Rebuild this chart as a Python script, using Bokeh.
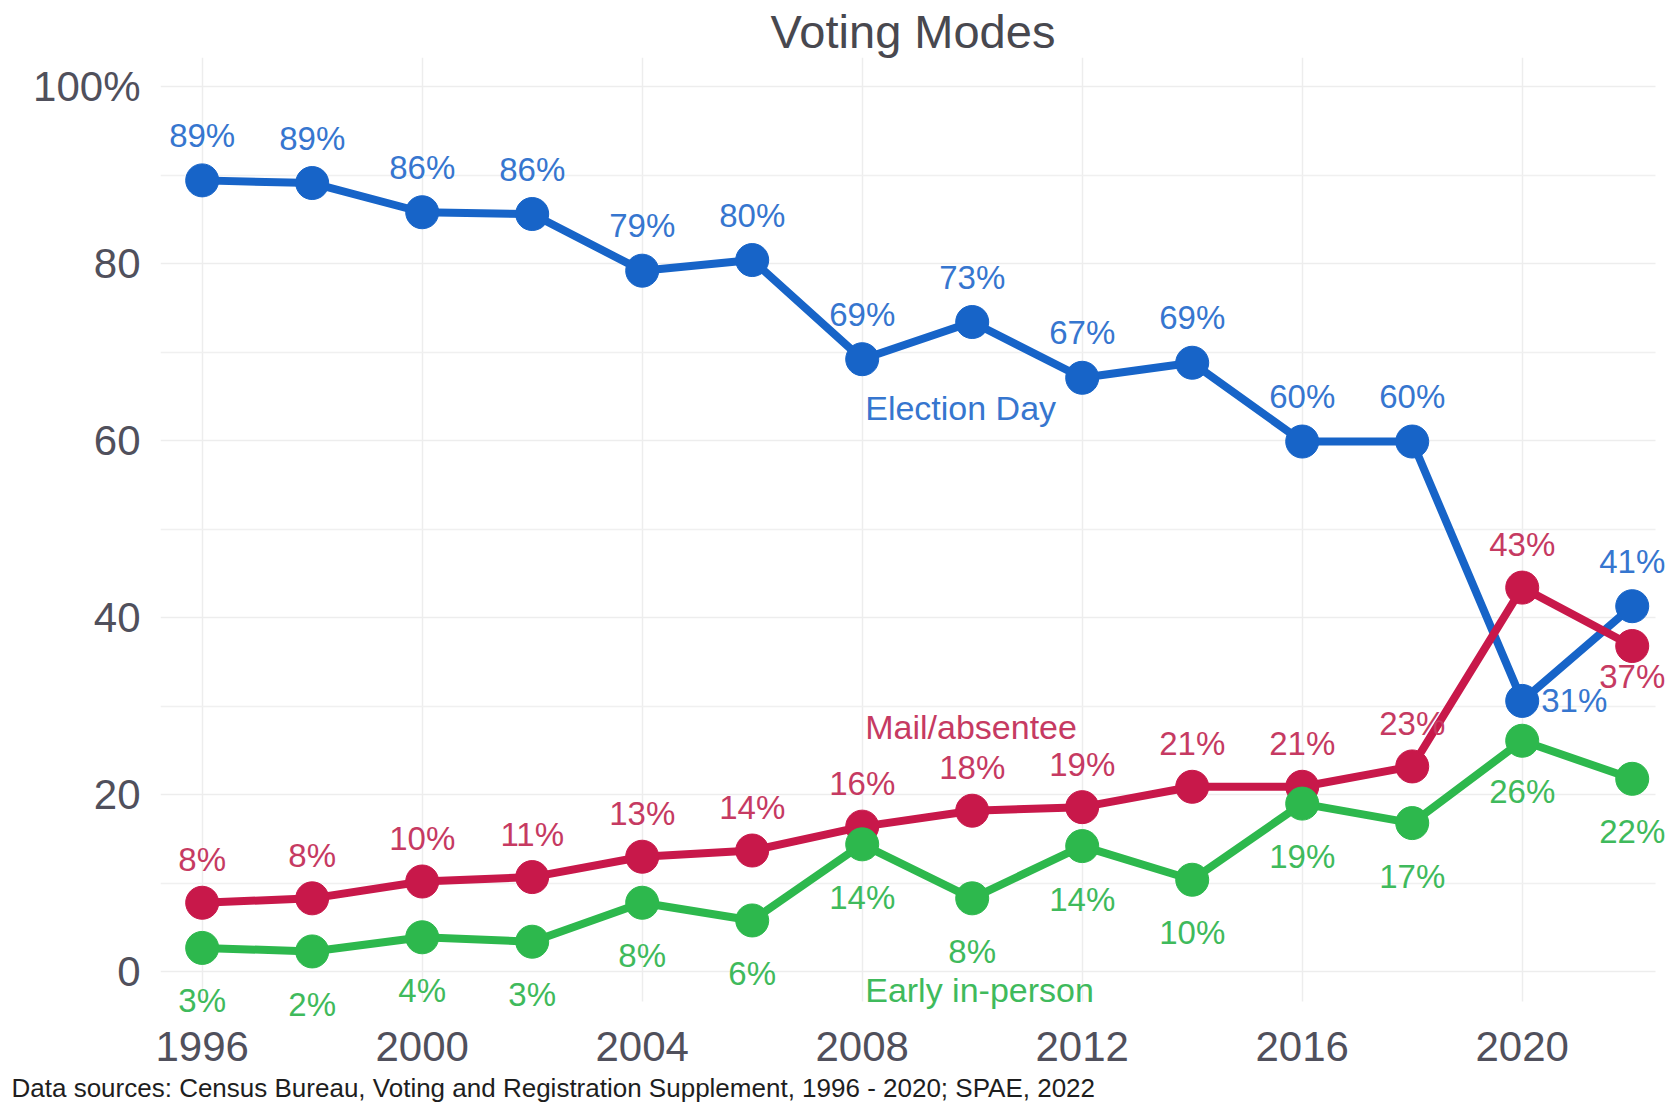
from bokeh.plotting import figure
from bokeh.models import ColumnDataSource, Range1d, FixedTicker, Title
from bokeh.core.properties import value
from bokeh.embed import file_html
from bokeh.resources import INLINE

# ---------------- data ----------------
years = [1996, 1998, 2000, 2002, 2004, 2006, 2008, 2010, 2012, 2014, 2016, 2018, 2020, 2022]
election_day = [89.4, 89.1, 85.8, 85.6, 79.2, 80.4, 69.2, 73.4, 67.1, 68.8, 59.9, 59.9, 30.6, 41.3]
mail_absentee = [7.8, 8.3, 10.2, 10.7, 13.0, 13.7, 16.4, 18.2, 18.6, 20.9, 20.9, 23.2, 43.4, 36.8]
early_in_person = [2.7, 2.3, 3.9, 3.4, 7.8, 5.8, 14.4, 8.3, 14.2, 10.4, 19.0, 16.8, 26.1, 21.8]

election_labels = ["89%", "89%", "86%", "86%", "79%", "80%", "69%", "73%", "67%", "69%", "60%", "60%", "31%", "41%"]
mail_labels = ["8%", "8%", "10%", "11%", "13%", "14%", "16%", "18%", "19%", "21%", "21%", "23%", "43%", "37%"]
early_labels = ["3%", "2%", "4%", "3%", "8%", "6%", "14%", "8%", "14%", "10%", "19%", "17%", "26%", "22%"]

series_names = ["Election Day", "Mail/absentee", "Early in-person"]
x_ticks = [1996, 2000, 2004, 2008, 2012, 2016, 2020]
y_ticks = [0, 20, 40, 60, 80, 100]
y_minor = [10, 30, 50, 70, 90]
y_tick_labels = {0: "0", 20: "20", 40: "40", 60: "60", 80: "80", 100: "100%"}
title_text = "Voting Modes"
caption_text = "Data sources:  Census Bureau, Voting and Registration Supplement, 1996 - 2020; SPAE, 2022"

# ---------------- style ----------------
FONT = value("Liberation Sans")
line_colors = ["#1764c8", "#c8184a", "#2db84d"]
text_colors = ["#3676cf", "#c63a62", "#3fba5c"]
n = len(years)
# label offsets in screen pixels (positive dy = downward)
election_dx = [0] * n
election_dy = [-45] * n
election_dx[12], election_dy[12] = 52, 0
mail_dx = [0] * n
mail_dy = [-43] * n
mail_dy[13] = 30
early_dx = [0] * n
early_dy = [53] * n
early_dy[12] = 51
# series name anchors: at 2008 point of each series, offset in px
name_anchor_idx = 6
name_dx = [3, 3, 3]
name_dy = [49, -100, 146]

X0, X1 = 1995.242, 2022.605
Y0, Y1 = -5.5, 103.28

p = figure(width=1665, height=1109, output_backend="svg", toolbar_location=None,
           x_range=Range1d(X0, X1), y_range=Range1d(Y0, Y1),
           min_border_left=160, min_border_right=0, min_border_top=57, min_border_bottom=89)
p.outline_line_color = None
p.background_fill_color = "white"
p.border_fill_color = "white"

# title
p.title.text = title_text
p.title.align = "center"
p.title.text_font = "Liberation Sans"
p.title.text_font_size = "47px"
p.title.text_font_style = "normal"
p.title.text_color = "#48484f"
p.title.standoff = 0
p.title.offset = 8

# axes
for ax in (p.xaxis[0], p.yaxis[0]):
    ax.axis_line_color = None
    ax.major_tick_line_color = None
    ax.minor_tick_line_color = None
    ax.major_label_text_font = "Liberation Sans"
    ax.major_label_text_font_size = "42px"
    ax.major_label_text_color = "#50505c"
p.xaxis.ticker = FixedTicker(ticks=x_ticks)
p.xaxis.major_label_standoff = 5
p.yaxis.ticker = FixedTicker(ticks=y_ticks, minor_ticks=y_minor)
p.yaxis.major_label_overrides = y_tick_labels
p.yaxis.major_label_standoff = 14

# grids
p.xgrid.ticker = FixedTicker(ticks=x_ticks)
p.xgrid.grid_line_color = "#ededed"
p.xgrid.grid_line_width = 1.5
p.xgrid.cross_bounds = (-3.3, Y1)
p.ygrid.ticker = FixedTicker(ticks=y_ticks, minor_ticks=y_minor)
p.ygrid.grid_line_color = "#ededed"
p.ygrid.grid_line_width = 1.5
p.ygrid.minor_grid_line_color = "#f0f0f0"
p.ygrid.minor_grid_line_width = 1.5
p.ygrid.cross_bounds = (X0, 2022.42)

series = [
    (election_day, election_labels, election_dx, election_dy),
    (mail_absentee, mail_labels, mail_dx, mail_dy),
    (early_in_person, early_labels, early_dx, early_dy),
]
sources = []
for vals, labs, dx, dy in series:
    sources.append(ColumnDataSource(dict(x=years, y=vals, label=labs, dx=dx, dy=dy)))

for src, col in zip(sources, line_colors):
    p.line("x", "y", source=src, line_color=col, line_width=8)
for src, col in zip(sources, line_colors):
    p.scatter("x", "y", source=src, marker="circle", size=33, fill_color=col, line_color=col)
for src, col in zip(sources, text_colors):
    p.text("x", "y", text="label", x_offset="dx", y_offset="dy", source=src,
           text_align="center", text_baseline="middle", text_font=FONT,
           text_font_size="33px", text_color=col)

# series name labels
name_src = ColumnDataSource(dict(
    x=[years[name_anchor_idx]] * 3,
    y=[election_day[name_anchor_idx], mail_absentee[name_anchor_idx], early_in_person[name_anchor_idx]],
    name=series_names, dx=name_dx, dy=name_dy, color=text_colors))
p.text("x", "y", text="name", x_offset="dx", y_offset="dy", source=name_src,
       text_align="left", text_baseline="middle", text_font=FONT,
       text_font_size="34px", text_color="color")

# caption
cap = Title(text=caption_text, align="left", text_font="Liberation Sans", text_font_size="26px",
            text_font_style="normal", text_color="#1e1e1e", offset=-149, standoff=14)
p.add_layout(cap, "below")

open("out.html", "w").write(file_html(p, INLINE))
